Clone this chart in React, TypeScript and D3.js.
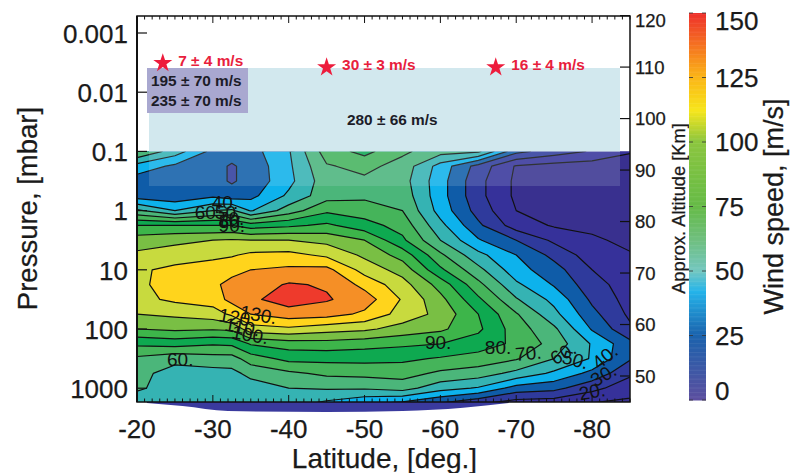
import React from "react";
import * as d3 from "d3";

const lats = [-20, -25, -30, -32.5, -35, -40, -45, -50, -55, -60, -65, -70, -75, -80, -85];
const logPressures = [-1, -0.75, -0.5, -0.25, 0, 0.25, 0.5, 0.75, 1, 1.25, 1.5, 1.75, 2, 2.25, 2.5, 2.75, 3, 3.25];
// one column per latitude, one value per pressure level
const windByLat = [
  [70, 46, 35, 35, 62, 90, 105, 112, 118, 118, 117, 110, 100, 82, 68, 63, 62, 52],
  [55, 38, 33, 33, 50, 90, 108, 114, 123, 124, 122, 112, 102, 84, 63, 56, 54, 52],
  [37, 33, 33, 38, 60, 90, 110, 118, 124, 128, 125, 115, 101, 81, 66, 56, 53, 52],
  [34, 29, 29, 34, 62, 90, 111, 119, 127, 133, 133, 122, 102, 82, 66, 57, 54, 52],
  [36, 33, 33, 37, 49, 85, 110, 122, 130, 135, 138, 130, 116, 91, 75, 63, 55, 52],
  [49, 48, 47, 52, 65, 88, 110, 123, 132, 141, 145, 135, 118, 95, 83, 68, 60, 54],
  [75, 69, 66, 66, 78, 92, 107, 118, 133, 139, 141, 134, 114, 96, 83, 72, 61, 48],
  [83, 73, 68, 68, 75, 84, 100, 108, 116, 127, 135, 128, 112, 94, 83, 73, 61, 42],
  [72, 66, 64, 66, 70, 76, 82, 96, 106, 114, 119, 116, 106, 92, 82, 74, 64, 38],
  [64, 46, 44, 44, 46, 53, 60, 72, 82, 96, 103, 107, 102, 90, 79, 68, 54, 30],
  [62, 26, 23, 23, 26, 32, 41, 53, 63, 73, 82, 90, 92, 85, 76, 65, 49, 22],
  [33, 9, 8, 8, 10, 15, 30, 40, 44, 52, 61, 71, 75, 78, 71, 57, 36, 15],
  [25, 6, 5, 5, 5, 9, 18, 27, 34, 39, 47, 53, 62, 66, 60, 48, 33, 14],
  [19, 5, 5, 4, 4, 7, 12, 15, 20, 24, 28, 33, 39, 49, 49, 37, 23, 10],
  [11, 4, 4, 3, 3, 3, 7, 11, 13, 15, 16, 18, 22, 33, 31, 22, 14, 8],
];
const levels = [0, 10, 20, 30, 40, 50, 60, 70, 80, 90, 100, 110, 120, 130, 140];
const bandColors = ["#39308f", "#36319a", "#2f3a9c", "#0f5ca8", "#0db2ec", "#35b3b3", "#4bb67a", "#45b45a", "#0ea950", "#3db54a", "#79bf44", "#c8da3e", "#ffd41c", "#f58f26", "#ee3a2c"];

const latTicks = [-20, -30, -40, -50, -60, -70, -80];
const pressureTicks = ["0.001", "0.01", "0.1", "1", "10", "100", "1000"];
const altitudeTicks = [120, 110, 100, 90, 80, 70, 60, 50];
const windTicks = [150, 125, 100, 75, 50, 25, 0];
const barStops = [0, 25, 42, 50, 62, 75, 100, 112, 125, 150];
const barColors = ["#5c4f9f", "#1b63ad", "#25b4ea", "#74c7c0", "#6fbf7f", "#66bb47", "#8cc63f", "#f6e61c", "#fbb517", "#ee2f2c"];

const contourLabels: [string, number, number, number][] = [
  ["40.", -31.6, -0.13, 0], ["60", -29, 0.04, 0], ["50.", -32, 0.04, 0], ["70.", -32.4, 0.125, 0], ["80.", -32.5, 0.18, 0], ["90.", -32.5, 0.26, 0],
  ["130.", -36, 1.76, 10], ["120.", -33.2, 1.81, 10], ["110.", -33.9, 1.97, 10], ["100.", -34.9, 2.1, 10], ["60.", -25.7, 2.52, 0],
  ["90.", -59.7, 2.22, 0], ["80.", -67.6, 2.32, 0], ["70.", -71.6, 2.41, -5], ["60.", -76.2, 2.41, -30], ["50.", -77.8, 2.52, 15], ["40.", -81.7, 2.47, -40], ["30.", -81.5, 2.78, -30], ["20.", -80, 3.06, -10],
];
const stars: [number, number, string][] = [
  [-23.4, -2.49, "7 ± 4 m/s"], [-45, -2.42, "30 ± 3 m/s"], [-67.3, -2.42, "16 ± 4 m/s"],
];
const sliverLat = [-21.3, -26, -32, -45, -55, -63, -69];
const sliverLogP = [3.25, 3.3, 3.385, 3.4, 3.385, 3.33, 3.25];

const FONT = "'Liberation Sans', Arial, sans-serif";
const INK = "#1a1a1a";

const x = d3.scaleLinear().domain([-20, -85]).range([137, 630]);
const y = d3.scaleLog().domain([0.001, 1000]).range([33, 388.2]);
const yE = (e: number) => y(Math.pow(10, e));
const altY = d3.scaleLinear().domain([120, 50]).range([15.6, 376]);
const barY = d3.scaleLinear().domain([0, 150]).range([400, 13]);
const barColor = d3.scaleLinear<string>().domain(barStops).range(barColors);

const L = 137, R = 630, T = 16, B = 402, DATA_TOP = 151.5;

const colIdx = d3.scaleLinear().domain(lats.map((_, i) => i + 0.5)).range(lats.map((l) => x(l)));
const rowIdx = d3.scaleLinear().domain(logPressures.map((_, i) => i + 0.5)).range(logPressures.map((e) => yE(e)));

export default function App() {
  const m = lats.length, n = logPressures.length;
  const flat: number[] = [];
  for (let j = 0; j < n; j++) for (let i = 0; i < m; i++) flat.push(windByLat[i][j]);
  const contours = d3.contours().size([m, n]).smooth(true).thresholds(levels)(flat);
  const path = d3.geoPath(
    d3.geoTransform({
      point(px: number, py: number) {
        (this as any).stream.point(colIdx(px), rowIdx(py));
      },
    })
  );
  const sliver = d3.area<number>()
    .x((_, i) => x(sliverLat[i]))
    .y0(B)
    .y1((_, i) => yE(sliverLogP[i]))
    .curve(d3.curveMonotoneX)(sliverLat);
  const starPath = d3.symbol().type(d3.symbolStar).size(112)() as string;
  const minor = d3.range(-20, -85.5, -1);
  const barVals = d3.range(0, 150, 0.5);
  const heavy = { stroke: INK, strokeWidth: 0.25, fill: INK };
  return (
    <svg width={791} height={473} style={{ position: "absolute", left: 0, top: 0, background: "#fff" }} fontFamily={FONT}>
      <defs>
        <clipPath id="plot"><rect x={L} y={DATA_TOP} width={R - L} height={B - DATA_TOP} /></clipPath>
      </defs>
      <path d={sliver as string} fill="#3a3a9e" />
      <g clipPath="url(#plot)">
        {contours.map((c, i) => (
          <path key={i} d={path(c as any) as string} fill={bandColors[i]} stroke={i === 0 ? "none" : "#111"} strokeWidth={1.2} strokeLinejoin="round" />
        ))}
      </g>
      {/* observation boxes */}
      <rect x={149} y={68} width={471} height={83.5} fill="#d2e8ee" />
      <rect x={149} y={151.5} width={471} height={34.5} fill="#d2e8ee" opacity={0.16} />
      <rect x={147} y={68} width={101} height={45} fill="#a9a8d0" />
      {/* contour labels */}
      {contourLabels.map(([t, la, e, r], i) => (
        <text key={i} fontSize={19} fill="#111" textAnchor="middle" dominantBaseline="central" transform={`translate(${x(la)},${yE(e)}) rotate(${r})`}>{t}</text>
      ))}
      {/* stars */}
      {stars.map(([la, e, t], i) => (
        <g key={i}>
          <path d={starPath} fill="#ed1c3c" transform={`translate(${x(la)},${yE(e)})`} />
          <text x={x(la) + 15.5} y={yE(e) - 3} fontSize={15.4} fontWeight="bold" fill="#e8203c" dominantBaseline="central">{t}</text>
        </g>
      ))}
      <text x={151} y={80} fontSize={15.4} fontWeight="bold" fill="#1c1c28" dominantBaseline="central">195 ± 70 m/s</text>
      <text x={151} y={100} fontSize={15.4} fontWeight="bold" fill="#1c1c28" dominantBaseline="central">235 ± 70 m/s</text>
      <text x={347} y={119} fontSize={15.4} fontWeight="bold" fill="#1c1c28" dominantBaseline="central">280 ± 66 m/s</text>
      {/* frame and ticks */}
      <rect x={L} y={T} width={R - L} height={B - T} fill="none" stroke="#111" strokeWidth={1.5} />
      <line x1={L} x2={L} y1={T} y2={B} stroke="#111" strokeWidth={2} />
      {minor.map((la) => {
        const major = la % 10 === 0;
        const len = major ? 7 : 3.5;
        return (
          <g key={la} stroke="#111" strokeWidth={1}>
            <line x1={x(la)} x2={x(la)} y1={T} y2={T + len} />
            <line x1={x(la)} x2={x(la)} y1={B} y2={B - len} />
          </g>
        );
      })}
      {latTicks.map((la) => (
        <text key={la} x={x(la)} y={438} fontSize={26} {...heavy} textAnchor="middle">{la}</text>
      ))}
      {pressureTicks.map((p) => (
        <g key={p}>
          <line x1={L} x2={L + 10} y1={y(+p)} y2={y(+p)} stroke="#111" strokeWidth={1.2} />
          <text x={128} y={y(+p) + 9.7} fontSize={26} {...heavy} textAnchor="end">{p}</text>
        </g>
      ))}
      {altitudeTicks.map((a) => (
        <g key={a}>
          <line x1={R} x2={R - 10} y1={altY(a)} y2={altY(a)} stroke="#111" strokeWidth={1.2} />
          <text x={635} y={Math.max(altY(a) + 6.5, 27)} fontSize={18.5} {...heavy} textAnchor="start">{a}</text>
        </g>
      ))}
      <text x={384.5} y={468} fontSize={28} {...heavy} textAnchor="middle">Latitude, [deg.]</text>
      <text fontSize={27.5} {...heavy} textAnchor="middle" transform="translate(37,208.5) rotate(-90)">Pressure, [mbar]</text>
      <text fontSize={18.3} {...heavy} textAnchor="middle" transform="translate(685,208.5) rotate(-90)">Approx. Altitude [Km]</text>
      {/* colour bar */}
      {barVals.map((v) => (
        <rect key={v} x={689} width={17} y={barY(v + 0.5)} height={barY(v) - barY(v + 0.5) + 0.5} fill={barColor(v)} />
      ))}
      {windTicks.map((v) => (
        <g key={v}>
          <line x1={689} x2={693} y1={barY(v)} y2={barY(v)} stroke="#333" strokeWidth={0.8} />
          <line x1={702} x2={706} y1={barY(v)} y2={barY(v)} stroke="#333" strokeWidth={0.8} />
          <text x={715} y={Math.min(Math.max(barY(v) + 9, 30), 400)} fontSize={26} {...heavy}>{v}</text>
        </g>
      ))}
      <text fontSize={27} {...heavy} textAnchor="middle" transform="translate(783,206.5) rotate(-90)">Wind speed, [m/s]</text>
    </svg>
  );
}
